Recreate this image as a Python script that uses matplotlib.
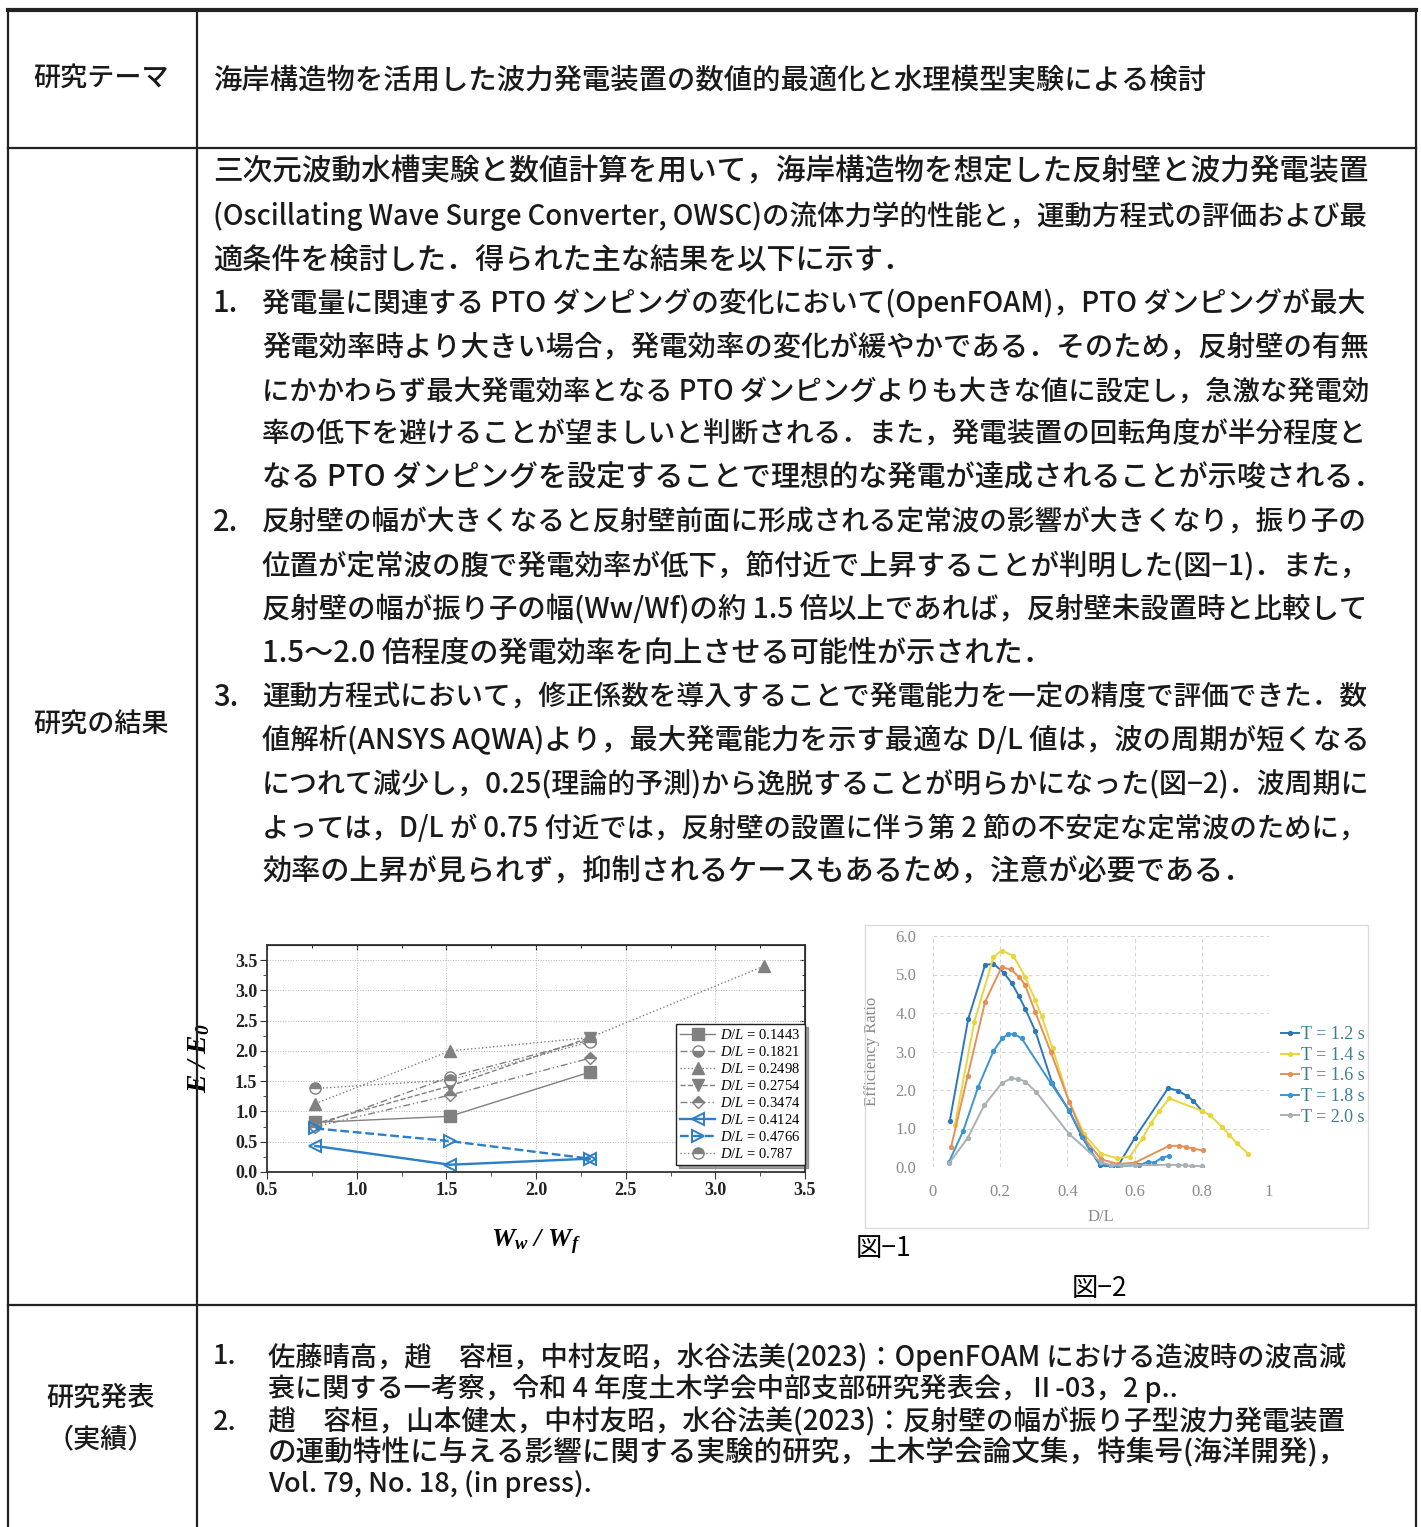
import matplotlib

matplotlib.use("Agg")
import matplotlib.pyplot as plt
from matplotlib.lines import Line2D
from matplotlib.patches import Rectangle

W, H = 1421, 1527
JP = ["Noto Sans CJK JP", "DejaVu Sans"]
SERIF = "Liberation Serif"

plt.rcParams["font.family"] = JP
plt.rcParams["mathtext.fontset"] = "custom"
plt.rcParams["mathtext.rm"] = SERIF
plt.rcParams["mathtext.it"] = SERIF + ":italic"
plt.rcParams["mathtext.bf"] = SERIF + ":italic:bold"

# ---- table text
ROW_LABELS = ["研究テーマ", "研究の結果", "研究発表", "（実績）"]
THEME = "海岸構造物を活用した波力発電装置の数値的最適化と水理模型実験による検討"
INTRO = [
    "三次元波動水槽実験と数値計算を用いて，海岸構造物を想定した反射壁と波力発電装置",
    "(Oscillating Wave Surge Converter, OWSC)の流体力学的性能と，運動方程式の評価および最",
    "適条件を検討した．得られた主な結果を以下に示す．",
]
ITEMS = [
    ["発電量に関連する PTO ダンピングの変化において(OpenFOAM)，PTO ダンピングが最大",
     "発電効率時より大きい場合，発電効率の変化が緩やかである．そのため，反射壁の有無",
     "にかかわらず最大発電効率となる PTO ダンピングよりも大きな値に設定し，急激な発電効",
     "率の低下を避けることが望ましいと判断される．また，発電装置の回転角度が半分程度と",
     "なる PTO ダンピングを設定することで理想的な発電が達成されることが示唆される．"],
    ["反射壁の幅が大きくなると反射壁前面に形成される定常波の影響が大きくなり，振り子の",
     "位置が定常波の腹で発電効率が低下，節付近で上昇することが判明した(図−1)．また，",
     "反射壁の幅が振り子の幅(Ww/Wf)の約 1.5 倍以上であれば，反射壁未設置時と比較して",
     "1.5～2.0 倍程度の発電効率を向上させる可能性が示された．"],
    ["運動方程式において，修正係数を導入することで発電能力を一定の精度で評価できた．数",
     "値解析(ANSYS AQWA)より，最大発電能力を示す最適な D/L 値は，波の周期が短くなる",
     "につれて減少し，0.25(理論的予測)から逸脱することが明らかになった(図−2)．波周期に",
     "よっては，D/L が 0.75 付近では，反射壁の設置に伴う第 2 節の不安定な定常波のために，",
     "効率の上昇が見られず，抑制されるケースもあるため，注意が必要である．"],
]
REFS = [
    ["佐藤晴高，趙　容桓，中村友昭，水谷法美(2023)：OpenFOAM における造波時の波高減",
     "衰に関する一考察，令和 4 年度土木学会中部支部研究発表会，Ⅱ-03，2 p.."],
    ["趙　容桓，山本健太，中村友昭，水谷法美(2023)：反射壁の幅が振り子型波力発電装置",
     "の運動特性に与える影響に関する実験的研究，土木学会論文集，特集号(海洋開発)，",
     "Vol. 79, No. 18, (in press)."],
]
CAPTIONS = ["図−1", "図−2"]

# ---- 図-1 : E/E0 vs Ww/Wf
WW = [0.77, 1.52, 2.30]
WW_EXT = [0.77, 1.52, 2.30, 3.27]
DL_VALUES = ["0.1443", "0.1821", "0.2498", "0.2754", "0.3474", "0.4124", "0.4766", "0.787"]
E_1443 = [0.82, 0.92, 1.65]
E_1821 = [0.76, 1.57, 2.18]
E_2498 = [1.13, 2.00, 2.22, 3.40]
E_2754 = [0.80, 1.42, 2.22]
E_3474 = [0.75, 1.27, 1.88]
E_4124 = [0.43, 0.12, 0.22]
E_4766 = [0.72, 0.51, 0.22]
E_787 = [1.38, 1.52, 2.15]

# ---- 図-2 : efficiency ratio vs D/L
T_LABELS = ["T = 1.2 s", "T = 1.4 s", "T = 1.6 s", "T = 1.8 s", "T = 2.0 s"]
T12_X = [0.05, 0.105, 0.155, 0.18, 0.21, 0.235, 0.255, 0.275, 0.305, 0.355, 0.405, 0.44,
         0.467, 0.497, 0.532, 0.55, 0.60, 0.70, 0.73, 0.755, 0.775, 0.80]
T12_Y = [1.20, 3.85, 5.25, 5.28, 5.05, 4.77, 4.45, 4.10, 3.52, 2.17, 1.46, 0.85,
         0.44, 0.05, 0.00, 0.02, 0.75, 2.05, 1.98, 1.85, 1.72, 1.46]
T14_X = [0.065, 0.123, 0.18, 0.204, 0.239, 0.274, 0.304, 0.323, 0.356, 0.405, 0.45, 0.50,
         0.547, 0.586, 0.624, 0.648, 0.674, 0.703, 0.80, 0.824, 0.859, 0.882, 0.904, 0.938]
T14_Y = [1.09, 3.77, 5.45, 5.62, 5.49, 4.94, 4.34, 3.92, 3.08, 1.70, 0.85, 0.35,
         0.23, 0.27, 0.75, 1.13, 1.46, 1.78, 1.46, 1.35, 1.05, 0.83, 0.62, 0.34]
T16_X = [0.054, 0.103, 0.155, 0.204, 0.232, 0.256, 0.274, 0.304, 0.35, 0.405, 0.45, 0.50,
         0.55, 0.60, 0.703, 0.733, 0.753, 0.773, 0.803]
T16_Y = [0.53, 2.36, 4.29, 5.19, 5.13, 4.94, 4.73, 4.03, 3.00, 1.70, 0.75, 0.20,
         0.08, 0.11, 0.55, 0.55, 0.52, 0.48, 0.43]
T18_X = [0.048, 0.09, 0.135, 0.18, 0.206, 0.224, 0.242, 0.264, 0.351, 0.405, 0.443, 0.467,
         0.497, 0.53, 0.55, 0.614, 0.641, 0.658, 0.681, 0.703]
T18_Y = [0.14, 0.94, 2.09, 3.01, 3.34, 3.45, 3.45, 3.34, 2.17, 1.48, 0.79, 0.44,
         0.10, 0.02, 0.02, 0.05, 0.14, 0.11, 0.24, 0.29]
T20_X = [0.048, 0.103, 0.153, 0.204, 0.232, 0.254, 0.274, 0.306, 0.405, 0.50, 0.53, 0.56,
         0.60, 0.70, 0.73, 0.75, 0.77, 0.80]
T20_Y = [0.10, 0.75, 1.61, 2.17, 2.30, 2.29, 2.22, 1.96, 0.86, 0.12, 0.05, 0.04,
         0.04, 0.06, 0.05, 0.04, 0.03, 0.02]

fig = plt.figure(figsize=(W / 100, H / 100), dpi=100)
fig.patch.set_facecolor("white")
renderer = fig.canvas.get_renderer()


def fx(x):
    return x / W


def fy(y):
    return 1 - y / H


def line(x0, y0, x1, y1, lw=1.6):
    fig.add_artist(Line2D([fx(x0), fx(x1)], [fy(y0), fy(y1)], color="#222", lw=lw))


def put(x, y, s, size, right=None, **kw):
    t = fig.text(fx(x), fy(y), s, fontsize=size, va="center", ha="left",
                 color="#1a1a1a", **kw)
    if right is not None:
        w = t.get_window_extent(renderer).width
        scale = min(max((right - x) / w, 0.85), 1.12)
        t.set_fontsize(size * scale)
    return t


# table frame
line(8, 10, 1416, 10, lw=3)
line(8, 148, 1416, 148)
line(8, 1305, 1416, 1305)
line(8, 10, 8, H)
line(197, 10, 197, H)
line(1416, 10, 1416, H)

# left column
for label, y in zip(ROW_LABELS, [78, 725, 1398, 1440]):
    fig.text(fx(101), fy(y), label, fontsize=19.5, ha="center", va="center",
             color="#1a1a1a", weight="medium")

put(213, 80, THEME, 19.5, right=1207, weight="medium")

BODY_SIZE = 21
y = 172
for s in INTRO:
    put(213, y, s, BODY_SIZE, right=1367 if s != INTRO[-1] else None, weight="medium")
    y += 43.75
for n, para in enumerate(ITEMS, 1):
    put(213, y, f"{n}.", BODY_SIZE, weight="medium")
    for k, s in enumerate(para):
        put(262, y, s, BODY_SIZE, right=1367 if k < len(para) - 1 else None,
            weight="medium")
        y += 43.75

ref_y = [1357, 1388, 1422, 1452, 1484]
i = 0
for n, para in enumerate(REFS, 1):
    put(213, ref_y[i], f"{n}.", 19.5, weight="medium")
    for k, s in enumerate(para):
        put(268, ref_y[i], s, 19.5, right=1348 if k < len(para) - 1 else None,
            weight="medium")
        i += 1

fig.text(fx(884), fy(1249), CAPTIONS[0], fontsize=19, ha="center", va="center")
fig.text(fx(1100), fy(1288), CAPTIONS[1], fontsize=19, ha="center", va="center")

# ---- 図-1
ax1 = fig.add_axes([fx(267), fy(1172), (805 - 267) / W, (1172 - 945) / H])
GRAY = "#808080"
BLUE = "#2a7fc6"
series1 = [
    (WW, E_1443, GRAY, "-", "s", "full"),
    (WW, E_1821, GRAY, (0, (5, 2, 1, 2)), "o", "bottom"),
    (WW_EXT, E_2498, GRAY, ":", "^", "full"),
    (WW, E_2754, GRAY, "--", "v", "full"),
    (WW, E_3474, GRAY, (0, (5, 2, 1, 2, 1, 2)), "D", "top"),
    (WW, E_4124, BLUE, "-", "<", "none"),
    (WW, E_4766, BLUE, "--", ">", "none"),
    (WW, E_787, GRAY, ":", "o", "top"),
]
for (xs, ys, c, ls, mk, fs), dl in zip(series1, DL_VALUES):
    blue = c == BLUE
    ax1.plot(xs, ys, color=c, ls=ls, lw=1.7 if blue else 1.0, marker=mk,
             ms=8 if not mk == "D" else 6, fillstyle=fs,
             mfc=c if fs != "none" else "white", mfcalt="white", mec=c,
             mew=1.4 if blue else 1.0, label=rf"$D/L$ = {dl}")
ax1.set_xlim(0.5, 3.5)
ax1.set_ylim(0, 3.75)
MINX = [0.75, 1.25, 1.75, 2.25, 2.75, 3.25]
MINY = [0.25, 0.75, 1.25, 1.75, 2.25, 2.75, 3.25]
ax1.set_xticks([0.5, 1.0, 1.5, 2.0, 2.5, 3.0, 3.5])
ax1.set_yticks([0.0, 0.5, 1.0, 1.5, 2.0, 2.5, 3.0, 3.5])
ax1.set_xticks(MINX, minor=True)
ax1.set_yticks(MINY, minor=True)
ax1.grid(True, which="major", color="#b8b8b8", lw=0.7, ls=":")
for lab in ax1.get_xticklabels() + ax1.get_yticklabels():
    lab.set_fontfamily(SERIF)
    lab.set_fontweight("bold")
    lab.set_fontsize(13)
    lab.set_color("#222")
for sp in ax1.spines.values():
    sp.set_color("#333")
    sp.set_linewidth(1.3)
ax1.tick_params(which="major", direction="out", color="#333", pad=2, length=5)
ax1.tick_params(which="minor", direction="out", color="#333", length=3)
top = ax1.secondary_xaxis("top")
top.set_xticks(ax1.get_xticks())
top.set_xticks(MINX, minor=True)
top.tick_params(which="both", direction="in", labeltop=False)
rgt = ax1.secondary_yaxis("right")
rgt.set_yticks(ax1.get_yticks())
rgt.set_yticks(MINY, minor=True)
rgt.tick_params(which="both", direction="in", labelright=False)
ax1.set_ylabel(r"$\mathbf{E\ /\ E_0}$", fontsize=20)
ax1.yaxis.set_label_coords(-(267 - 213) / 538, 0.5)
ax1.set_xlabel(r"$\mathbf{W_w\ /\ W_f}$", fontsize=19)
ax1.xaxis.set_label_coords(0.5, -(1228 - 1172) / 227)
leg1 = ax1.legend(loc="lower right", bbox_to_anchor=(1.0, 0.03),
                  prop={"family": SERIF, "size": 10.5}, frameon=True, shadow=True,
                  fancybox=False, handlelength=2.4, labelspacing=0.2,
                  borderpad=0.3, handletextpad=0.35, borderaxespad=0)
leg1.get_frame().set_edgecolor("#222")
leg1.get_frame().set_linewidth(1.0)

# ---- 図-2
fig.add_artist(Rectangle((fx(865), fy(1228)), (1368 - 865) / W, (1228 - 925) / H,
                         fill=False, ec="#dcdcdc", lw=1.0))
ax2 = fig.add_axes([fx(933), fy(1167), (1269 - 933) / W, (1167 - 936) / H])
T_COLORS = ["#2c78b8", "#e8d63c", "#e39158", "#3a95d0", "#a9b1b5"]
series2 = [(T12_X, T12_Y), (T14_X, T14_Y), (T16_X, T16_Y), (T18_X, T18_Y), (T20_X, T20_Y)]
for (xs, ys), c, lab in zip(series2, T_COLORS, T_LABELS):
    ax2.plot(xs, ys, color=c, lw=1.4, marker="o", ms=2.8, label=lab)
ax2.set_xlim(0, 1)
ax2.set_ylim(0, 6)
ax2.set_xticks([0, 0.2, 0.4, 0.6, 0.8, 1.0])
ax2.set_xticklabels(["0", "0.2", "0.4", "0.6", "0.8", "1"])
ax2.set_yticks([0, 1, 2, 3, 4, 5, 6])
ax2.set_yticklabels([f"{v:.1f}" for v in range(7)])
ax2.grid(True, color="#d6d6d6", lw=0.7, ls=(0, (4, 3)))
for sp in ax2.spines.values():
    sp.set_visible(False)
ax2.tick_params(length=0, pad=12, labelcolor="#8a8a8a")
for lab in ax2.get_xticklabels() + ax2.get_yticklabels():
    lab.set_fontfamily(SERIF)
    lab.set_fontsize(12)
ax2.set_ylabel("Efficiency Ratio", family=SERIF, fontsize=12, color="#8a8a8a")
ax2.yaxis.set_label_coords(-(933 - 880) / 336, 0.5)
ax2.set_xlabel("D/L", family=SERIF, fontsize=12, color="#8a8a8a")
ax2.xaxis.set_label_coords(0.5, -(1209 - 1167) / 231)
ax2.legend(loc="center left", bbox_to_anchor=((1281 - 933) / 336, (1167 - 1076) / 231),
           frameon=False, prop={"family": SERIF, "size": 13}, labelcolor="#3c7f8e",
           handlelength=1.0, handletextpad=0.1, labelspacing=0.2, borderaxespad=0,
           borderpad=0)

fig.savefig("out.png", dpi=100, facecolor="white")
